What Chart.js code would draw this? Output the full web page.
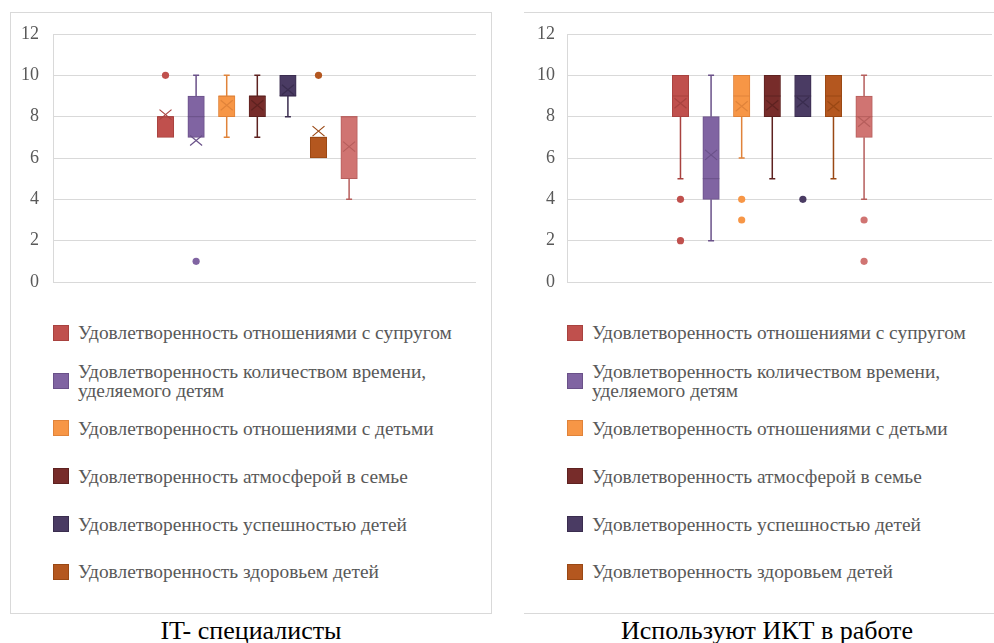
<!DOCTYPE html>
<html><head><meta charset="utf-8">
<script src="https://cdn.jsdelivr.net/npm/chart.js@4/dist/chart.umd.min.js"></script>
<style>
body{margin:0;width:994px;height:643px;background:#fff;position:relative;overflow:hidden;font-family:"Liberation Serif","Times New Roman","Liberation Sans",sans-serif;}
.frame{position:absolute;box-sizing:border-box;}
#f1{left:10px;top:12px;width:482px;height:602px;border:1px solid #d9d9d9;}
#f2{left:524px;top:12px;width:470px;height:602px;border-top:1px solid #d9d9d9;border-bottom:1px solid #d9d9d9;}
canvas{position:absolute;}
.legend{position:absolute;top:309px;}
.li{height:47.8px;display:flex;align-items:center;}
.sw{width:16px;height:16px;box-sizing:border-box;border:1px solid;flex:none;}
.lt{font-size:19.4px;line-height:19px;color:#595959;margin-left:9px;white-space:nowrap;}
.cap{position:absolute;top:618px;font-size:26px;line-height:26px;color:#000;text-align:center;white-space:nowrap;}
</style></head>
<body>
<div class="frame" id="f1"></div>
<div class="frame" id="f2"></div>
<canvas id="c1" width="470" height="280" style="left:12px;top:14px;width:470px;height:280px"></canvas>
<canvas id="c2" width="470" height="280" style="left:524px;top:14px;width:470px;height:280px"></canvas>
<div class="legend" id="lg1" style="left:53px"></div>
<div class="legend" id="lg2" style="left:567px"></div>
<div class="cap" style="left:10px;width:482px">IT- специалисты</div>
<div class="cap" style="left:567px;width:400px">Используют ИКТ в работе</div>
<script>
// ---- data ----
const seriesNames = [
  "Удовлетворенность отношениями с супругом",
  "Удовлетворенность количеством времени,\nуделяемого детям",
  "Удовлетворенность отношениями с детьми",
  "Удовлетворенность атмосферой в семье",
  "Удовлетворенность успешностью детей",
  "Удовлетворенность здоровьем детей",
  "Ряд 7"
];
const legendCount = 6;
const fillColors = ["#C0504D", "#8064A2", "#F79646", "#772C2A", "#4A3B63", "#B4571F", "#D07472"];
const edgeColors = ["#A8423F", "#6A5189", "#E0833A", "#5E2220", "#3A2D4F", "#9A4814", "#B65E5C"];
const yTickValues = [0, 2, 4, 6, 8, 10, 12];

// IT-специалисты
const itQ1 = [7, 7, 8, 8, 9, 6, 5];
const itMedian = [8, 8, 9, 9, 9, 7, 8];
const itQ3 = [8, 9, 9, 9, 10, 7, 8];
const itLow = [7, 7, 7, 7, 8, 6, 4];
const itHigh = [8, 10, 10, 10, 10, 7, 8];
const itMean = [8.1, 6.85, 8.55, 8.55, 9.3, 7.3, 6.55];
const itOutliers = [[10], [1], [], [], [], [10], []];

// Используют ИКТ в работе
const ictQ1 = [8, 4, 8, 8, 8, 8, 7];
const ictMedian = [9, 5, 9, 9, 9, 9, 8];
const ictQ3 = [10, 8, 10, 10, 10, 10, 9];
const ictLow = [5, 2, 6, 5, 8, 5, 4];
const ictHigh = [10, 10, 10, 10, 10, 10, 10];
const ictMean = [8.65, 6.15, 8.5, 8.55, 8.7, 8.5, 7.75];
const ictOutliers = [[4, 2], [], [4, 3], [], [4], [], [3, 1]];

const fontFamily = "'Liberation Serif', 'Times New Roman', 'Liberation Sans', sans-serif";

// ---- box-plot drawing plugin (uses chart scales and bar elements) ----
const boxPlugin = {
  id: 'boxExtras',
  afterDatasetsDraw(chart) {
    const ctx = chart.ctx, ys = chart.scales.y;
    chart.data.datasets.forEach((ds, i) => {
      const meta = chart.getDatasetMeta(i);
      const el = meta.data[0];
      if (!el) return;
      const s = ds.stats;
      const x = el.x, w = el.width, half = w / 2, cap = 3;
      const yq1 = ys.getPixelForValue(s.q1), yq3 = ys.getPixelForValue(s.q3);
      const ylo = ys.getPixelForValue(s.lo), yhi = ys.getPixelForValue(s.hi);
      ctx.save();
      ctx.strokeStyle = ds.borderColor;
      ctx.lineWidth = 1.5;
      ctx.beginPath();
      if (s.hi > s.q3) { ctx.moveTo(x, yq3); ctx.lineTo(x, yhi); ctx.moveTo(x - cap, yhi); ctx.lineTo(x + cap, yhi); }
      if (s.lo < s.q1) { ctx.moveTo(x, yq1); ctx.lineTo(x, ylo); ctx.moveTo(x - cap, ylo); ctx.lineTo(x + cap, ylo); }
      ctx.stroke();
      // median
      ctx.lineWidth = 1;
      const ym = ys.getPixelForValue(s.med);
      ctx.beginPath(); ctx.moveTo(x - half, ym); ctx.lineTo(x + half, ym); ctx.stroke();
      // mean marker (x)
      const yMean = ys.getPixelForValue(s.mean);
      ctx.lineWidth = 1.2;
      ctx.beginPath();
      ctx.moveTo(x - 6, yMean - 5); ctx.lineTo(x + 6, yMean + 5);
      ctx.moveTo(x + 6, yMean - 5); ctx.lineTo(x - 6, yMean + 5);
      ctx.stroke();
      // outliers
      ctx.fillStyle = ds.backgroundColor;
      s.out.forEach(v => {
        ctx.beginPath();
        ctx.arc(x, ys.getPixelForValue(v), 3.6, 0, Math.PI * 2);
        ctx.fill();
      });
      ctx.restore();
    });
  }
};

function makeChart(id, q1, med, q3, lo, hi, mean, out, axisW, tickLen, padRight) {
  const datasets = seriesNames.map((name, i) => ({
    label: name,
    data: [{ x: 0, y: [q1[i], q3[i]] }],
    backgroundColor: fillColors[i],
    borderColor: edgeColors[i],
    borderWidth: 1,
    borderSkipped: false,
    barThickness: 30.6,
    maxBarThickness: 16.5,
    stats: { q1: q1[i], med: med[i], q3: q3[i], lo: lo[i], hi: hi[i], mean: mean[i], out: out[i] }
  }));
  return new Chart(document.getElementById(id), {
    type: 'bar',
    data: { datasets },
    plugins: [boxPlugin],
    options: {
      responsive: false,
      animation: false,
      layout: { padding: { top: 20, right: padRight, bottom: 12, left: 0 } },
      plugins: { legend: { display: false }, tooltip: { enabled: false } },
      scales: {
        x: { type: 'linear', display: false, min: -0.966, max: 1.034, offset: false },
        y: {
          min: 0, max: 12,
          afterFit: s => { s.width = axisW; },
          afterBuildTicks: s => { s.ticks = yTickValues.map(v => ({ value: v })); },
          grid: { color: '#d9d9d9', lineWidth: 1, drawTicks: true, tickLength: tickLen, tickColor: 'rgba(0,0,0,0)' },
          border: { display: true, color: '#d9d9d9', width: 1 },
          ticks: { padding: 0, color: '#595959', font: { family: fontFamily, size: 18 } }
        }
      }
    }
  });
}

makeChart('c1', itQ1, itMedian, itQ3, itLow, itHigh, itMean, itOutliers, 41, 14, 6);
makeChart('c2', ictQ1, ictMedian, ictQ3, ictLow, ictHigh, ictMean, ictOutliers, 43, 12, 2);

function buildLegend(id) {
  const box = document.getElementById(id);
  for (let i = 0; i < legendCount; i++) {
    const row = document.createElement('div'); row.className = 'li';
    const sw = document.createElement('div'); sw.className = 'sw';
    sw.style.background = fillColors[i]; sw.style.borderColor = edgeColors[i];
    const t = document.createElement('div'); t.className = 'lt';
    seriesNames[i].split('\n').forEach((line, k) => {
      if (k) t.appendChild(document.createElement('br'));
      t.appendChild(document.createTextNode(line));
    });
    row.appendChild(sw); row.appendChild(t); box.appendChild(row);
  }
}
buildLegend('lg1');
buildLegend('lg2');
</script>
</body></html>
